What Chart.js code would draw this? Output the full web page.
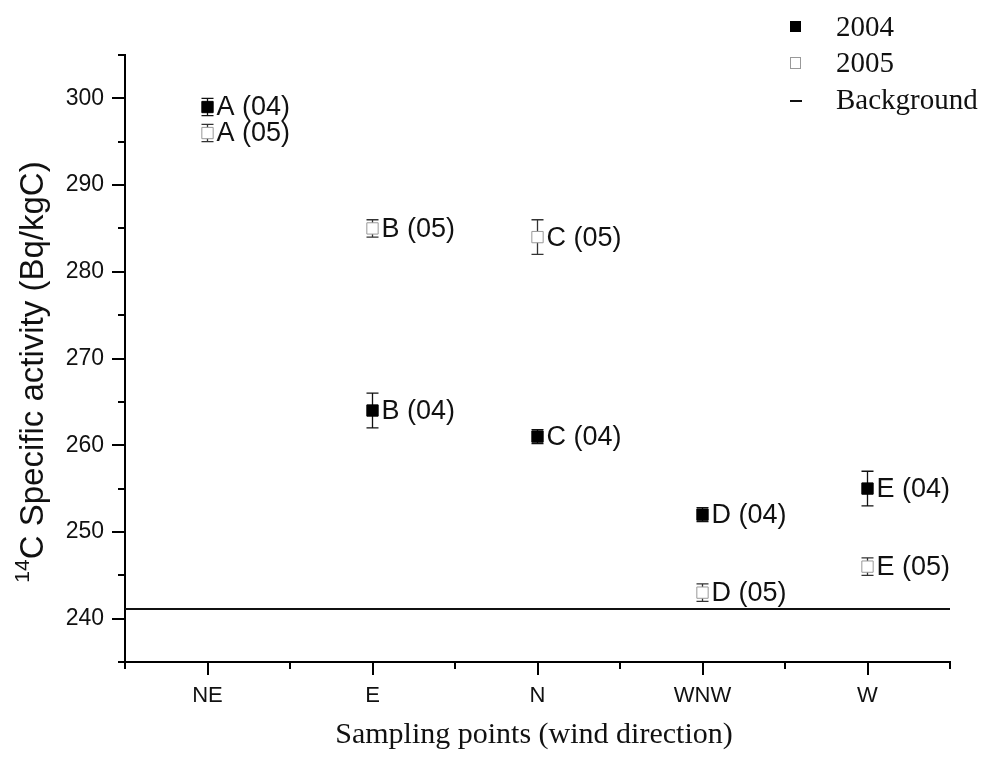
<!DOCTYPE html>
<html>
<head>
<meta charset="utf-8">
<script src="https://cdn.jsdelivr.net/npm/chart.js@4.4.1/dist/chart.umd.min.js"></script>
<style>
  body { margin: 0; background: #fff; }
  canvas { display: block; }
</style>
</head>
<body>
<canvas id="myChart" width="985" height="758"></canvas>
<script>
// data
const categories = ['NE', 'E', 'N', 'WNW', 'W'];
const values2004 = [299, 264, 261, 252, 255];
const errors2004 = [1, 2, 0.8, 0.8, 2];
const labels2004 = ['A (04)', 'B (04)', 'C (04)', 'D (04)', 'E (04)'];
const values2005 = [296, 285, 284, 243, 246];
const errors2005 = [1, 1, 2, 1, 1];
const labels2005 = ['A (05)', 'B (05)', 'C (05)', 'D (05)', 'E (05)'];
const background = 241.1;
const yTicks = [240, 250, 260, 270, 280, 290, 300];
const yMinorTicks = [235, 245, 255, 265, 275, 285, 295, 305];
const xMinorTicks = [-0.5, 0.5, 1.5, 2.5, 3.5, 4.5];

const SANS = '"Liberation Sans", Arial, sans-serif';
const SERIF = '"Liberation Serif", "Times New Roman", serif';

const toPoints = vals => vals.map((v, i) => ({ x: i, y: v }));

const errorBars = {
    id: 'errorBars',
    beforeDatasetsDraw(chart) {
        const ctx = chart.ctx;
        const xs = chart.scales.x, ys = chart.scales.y;
        const sets = [[values2004, errors2004, '#111'], [values2005, errors2005, '#333']];
        ctx.save();
        ctx.lineWidth = 1.3;
        sets.forEach(([vals, errs, col]) => {
            ctx.strokeStyle = col;
            vals.forEach((v, i) => {
                const px = xs.getPixelForValue(i);
                const top = ys.getPixelForValue(v + errs[i]);
                const bot = ys.getPixelForValue(v - errs[i]);
                ctx.beginPath();
                ctx.moveTo(px, top); ctx.lineTo(px, bot);
                ctx.moveTo(px - 6, top); ctx.lineTo(px + 6, top);
                ctx.moveTo(px - 6, bot); ctx.lineTo(px + 6, bot);
                ctx.stroke();
            });
        });
        ctx.restore();
    }
};

const pointLabels = {
    id: 'pointLabels',
    afterDatasetsDraw(chart) {
        const ctx = chart.ctx;
        const xs = chart.scales.x, ys = chart.scales.y;
        ctx.save();
        ctx.fillStyle = '#111';
        ctx.font = '27px ' + SANS;
        ctx.textBaseline = 'middle';
        ctx.textAlign = 'left';
        [[values2004, labels2004], [values2005, labels2005]].forEach(([vals, labs]) => {
            vals.forEach((v, i) => {
                ctx.fillText(labs[i], xs.getPixelForValue(i) + 9, ys.getPixelForValue(v) + 1);
            });
        });
        ctx.restore();
    }
};

const decorations = {
    id: 'decorations',
    afterDraw(chart) {
        const ctx = chart.ctx;
        const xs = chart.scales.x, ys = chart.scales.y;
        const area = chart.chartArea;
        ctx.save();
        // minor ticks
        ctx.strokeStyle = '#000';
        ctx.lineWidth = 2;
        ctx.beginPath();
        yMinorTicks.forEach(v => {
            const py = Math.round(ys.getPixelForValue(v));
            ctx.moveTo(area.left, py); ctx.lineTo(area.left - 7, py);
        });
        xMinorTicks.forEach(v => {
            const px = Math.round(xs.getPixelForValue(v));
            ctx.moveTo(px, area.bottom); ctx.lineTo(px, area.bottom + 7);
        });
        ctx.stroke();

        // x axis title
        ctx.fillStyle = '#111';
        ctx.font = '30px ' + SERIF;
        ctx.textAlign = 'center';
        ctx.textBaseline = 'alphabetic';
        ctx.fillText('Sampling points (wind direction)', 534, 743);

        // y axis title with superscript
        ctx.save();
        ctx.translate(43, 372);
        ctx.rotate(-Math.PI / 2);
        ctx.textAlign = 'left';
        ctx.textBaseline = 'alphabetic';
        const main = 'C Specific activity (Bq/kgC)';
        ctx.font = '21px ' + SANS;
        const wSup = ctx.measureText('14').width;
        ctx.font = '33px ' + SANS;
        const wMain = ctx.measureText(main).width;
        const start = -(wSup + wMain) / 2;
        ctx.font = '21px ' + SANS;
        ctx.fillText('14', start, -14);
        ctx.font = '33px ' + SANS;
        ctx.fillText(main, start + wSup, 0);
        ctx.restore();

        // legend
        ctx.font = '29px ' + SERIF;
        ctx.textAlign = 'left';
        ctx.textBaseline = 'middle';
        ctx.fillStyle = '#000';
        ctx.fillRect(790, 21, 11, 11);
        ctx.fillStyle = '#111';
        ctx.fillText('2004', 836, 28);
        ctx.strokeStyle = '#999';
        ctx.lineWidth = 1;
        ctx.strokeRect(790.5, 57.5, 10, 11);
        ctx.fillText('2005', 836, 64);
        ctx.strokeStyle = '#111';
        ctx.lineWidth = 2;
        ctx.beginPath();
        ctx.moveTo(790, 101); ctx.lineTo(802, 101);
        ctx.stroke();
        ctx.fillText('Background', 836, 101);
        ctx.restore();
    }
};

new Chart(document.getElementById('myChart'), {
    type: 'scatter',
    data: {
        datasets: [
            {
                label: 'Background',
                data: [{ x: -0.5, y: background }, { x: 4.5, y: background }],
                showLine: true,
                borderColor: '#111',
                borderWidth: 2,
                pointRadius: 0
            },
            {
                label: '2004',
                data: toPoints(values2004),
                pointStyle: 'rect',
                pointRadius: 8,
                backgroundColor: '#000',
                borderColor: '#000',
                borderWidth: 1
            },
            {
                label: '2005',
                data: toPoints(values2005),
                pointStyle: 'rect',
                pointRadius: 8,
                backgroundColor: '#fff',
                borderColor: '#999',
                borderWidth: 1
            }
        ]
    },
    options: {
        responsive: false,
        animation: false,
        layout: { padding: { left: 0, top: 55, right: 35, bottom: 0 } },
        plugins: {
            legend: { display: false },
            tooltip: { enabled: false }
        },
        scales: {
            x: {
                type: 'linear',
                min: -0.5,
                max: 4.5,
                afterBuildTicks: s => { s.ticks = categories.map((c, i) => ({ value: i })); },
                afterFit: s => { s.height = 96; },
                ticks: {
                    callback: v => categories[v],
                    color: '#111',
                    font: { family: SANS, size: 22 },
                    padding: 8
                },
                grid: { drawOnChartArea: false, color: '#000', lineWidth: 2, tickLength: 13 },
                border: { color: '#000', width: 2 }
            },
            y: {
                min: 235,
                max: 305,
                afterBuildTicks: s => { s.ticks = yTicks.map(v => ({ value: v })); },
                afterFit: s => { s.width = 125; },
                ticks: {
                    color: '#111',
                    font: { family: SANS, size: 23 },
                    padding: 8
                },
                grid: { drawOnChartArea: false, color: '#000', lineWidth: 2, tickLength: 13 },
                border: { color: '#000', width: 2 }
            }
        }
    },
    plugins: [errorBars, pointLabels, decorations]
});
</script>
</body>
</html>
